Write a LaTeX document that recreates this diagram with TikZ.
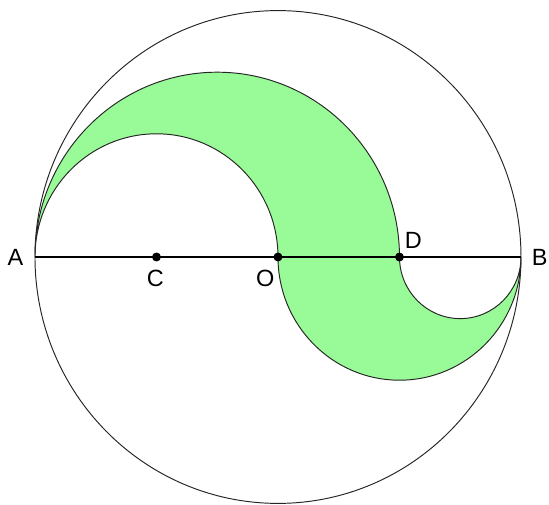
\documentclass[tikz,border=0pt]{standalone}
\usepackage{fontspec}
\setmainfont{Liberation Sans}
\usepackage{tikz}
\usetikzlibrary{positioning}
\usepackage{xcolor}
\definecolor{leafgreen}{RGB}{152,251,152}

\begin{document}
\begin{tikzpicture}[
  yscale=1.014,
  rim/.style={draw=black!85, line width=0.45pt},
  band/.style={fill=leafgreen, draw=black!85, line width=0.45pt},
  axis/.style={draw=black, line width=0.6pt},
  dot/.style={circle, fill=black, inner sep=0pt, minimum size=4.2pt},
  lbl/.style={font=\fontsize{11}{13}\selectfont, inner sep=0pt},
]
\useasboundingbox (-4.576,-4.010) rectangle (4.461,4.172);

% Points on the diameter
\coordinate (A) at (-4,0);
\coordinate (C) at (-2,0);
\coordinate (O) at (0,0);
\coordinate (D) at (2,0);
\coordinate (B) at (4,0);

% Green band: four semicircles
\path[band] (A) arc (180:0:3) arc (180:360:1) arc (360:180:2) arc (0:180:2) -- cycle;

% Outer circle and diameter
\draw[rim] (O) circle (4);
\draw[axis] (A) -- (B);

\node[dot] (dC) at (C) {};
\node[dot] (dO) at (O) {};
\node[dot] (dD) at (D) {};

% Labels
\node[lbl] (lA) at (-4.32,0) {A};
\node[lbl] (lC) at (-2.02,-0.35) {C};
\node[lbl] (lO) at (-0.21,-0.35) {O};
\node[lbl] (lD) at (2.23,0.27) {D};
\node[lbl] (lB) at (4.31,0) {B};

\end{tikzpicture}
\end{document}
